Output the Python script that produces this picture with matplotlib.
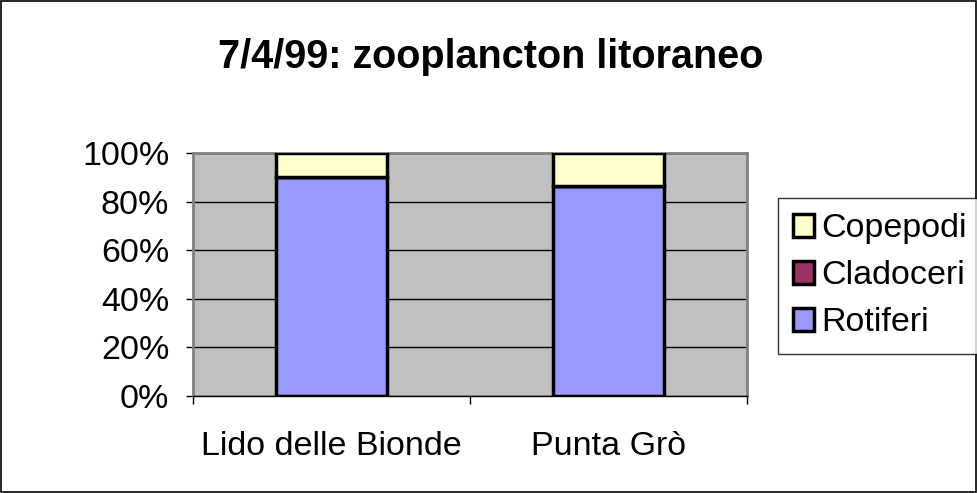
import matplotlib.pyplot as plt
from matplotlib.patches import Patch, Rectangle
from matplotlib.ticker import FixedLocator, NullFormatter, FixedFormatter

plt.rcParams['font.family'] = ['Liberation Sans', 'DejaVu Sans']

sites = ["Lido delle Bionde", "Punta Grò"]
rotiferi = [90, 86.3]
cladoceri = [0.0, 0.0]
copepodi = [10, 13.7]

col_rot = '#9999FF'
col_cla = '#993366'
col_cop = '#FFFFCC'

fig = plt.figure(figsize=(9.78, 4.93), dpi=100)
fig.add_artist(Rectangle((0.001, 0.002), 0.997, 0.996, transform=fig.transFigure,
                         fill=False, edgecolor='black', linewidth=1.2))

ax = fig.add_axes([0.1973, 0.1968, 0.5665, 0.4929])
ax.set_facecolor('#C0C0C0')

x = [0.5, 1.5]
bot2 = [r + c for r, c in zip(rotiferi, cladoceri)]
ax.bar(x, rotiferi, width=0.4, color=col_rot, edgecolor='black', linewidth=2.5, zorder=3)
ax.bar(x, cladoceri, width=0.4, bottom=rotiferi, color=col_cla, edgecolor='black', linewidth=2.5, zorder=3)
ax.bar(x, copepodi, width=0.4, bottom=bot2, color=col_cop, edgecolor='black', linewidth=2.5, zorder=3)

ax.set_xlim(0, 2)
ax.set_ylim(0, 100)
ax.set_yticks([0, 20, 40, 60, 80, 100])
ax.set_yticklabels(['0%', '20%', '40%', '60%', '80%', '100%'], fontsize=24.5)
ax.yaxis.grid(True, color='black', linewidth=1)
ax.set_axisbelow(True)

ax.xaxis.set_major_locator(FixedLocator([0, 1, 2]))
ax.xaxis.set_major_formatter(NullFormatter())
ax.xaxis.set_minor_locator(FixedLocator(x))
ax.xaxis.set_minor_formatter(FixedFormatter(sites))
ax.tick_params(axis='x', which='major', length=6, color='black', width=1)
ax.tick_params(axis='x', which='minor', length=0, labelsize=24.5, pad=25)
ax.tick_params(axis='y', length=5, color='black', width=1, pad=12)

for s in ax.spines.values():
    s.set_color('#808080')
    s.set_linewidth(2)
ax.spines['bottom'].set_color('black')
ax.spines['bottom'].set_linewidth(1)

fig.text(0.5015, 0.884, "7/4/99: zooplancton litoraneo", ha='center', va='center',
         fontsize=28.5, fontweight='bold')

handles = [Patch(facecolor=col_cop, edgecolor='black', linewidth=2.5),
           Patch(facecolor=col_cla, edgecolor='black', linewidth=2.5),
           Patch(facecolor=col_rot, edgecolor='black', linewidth=2.5)]
leg = fig.legend(handles, ['Copepodi', 'Cladoceri', 'Rotiferi'],
                 loc='upper left', bbox_to_anchor=(0.7955, 0.598),
                 fontsize=24.5, frameon=True, fancybox=False,
                 handlelength=0.62, handleheight=0.62, handletextpad=0.2,
                 labelspacing=0.47, borderpad=0.45, borderaxespad=0)
leg.get_frame().set_edgecolor('black')
leg.get_frame().set_linewidth(1)

fig.savefig('out.png', dpi=100)
